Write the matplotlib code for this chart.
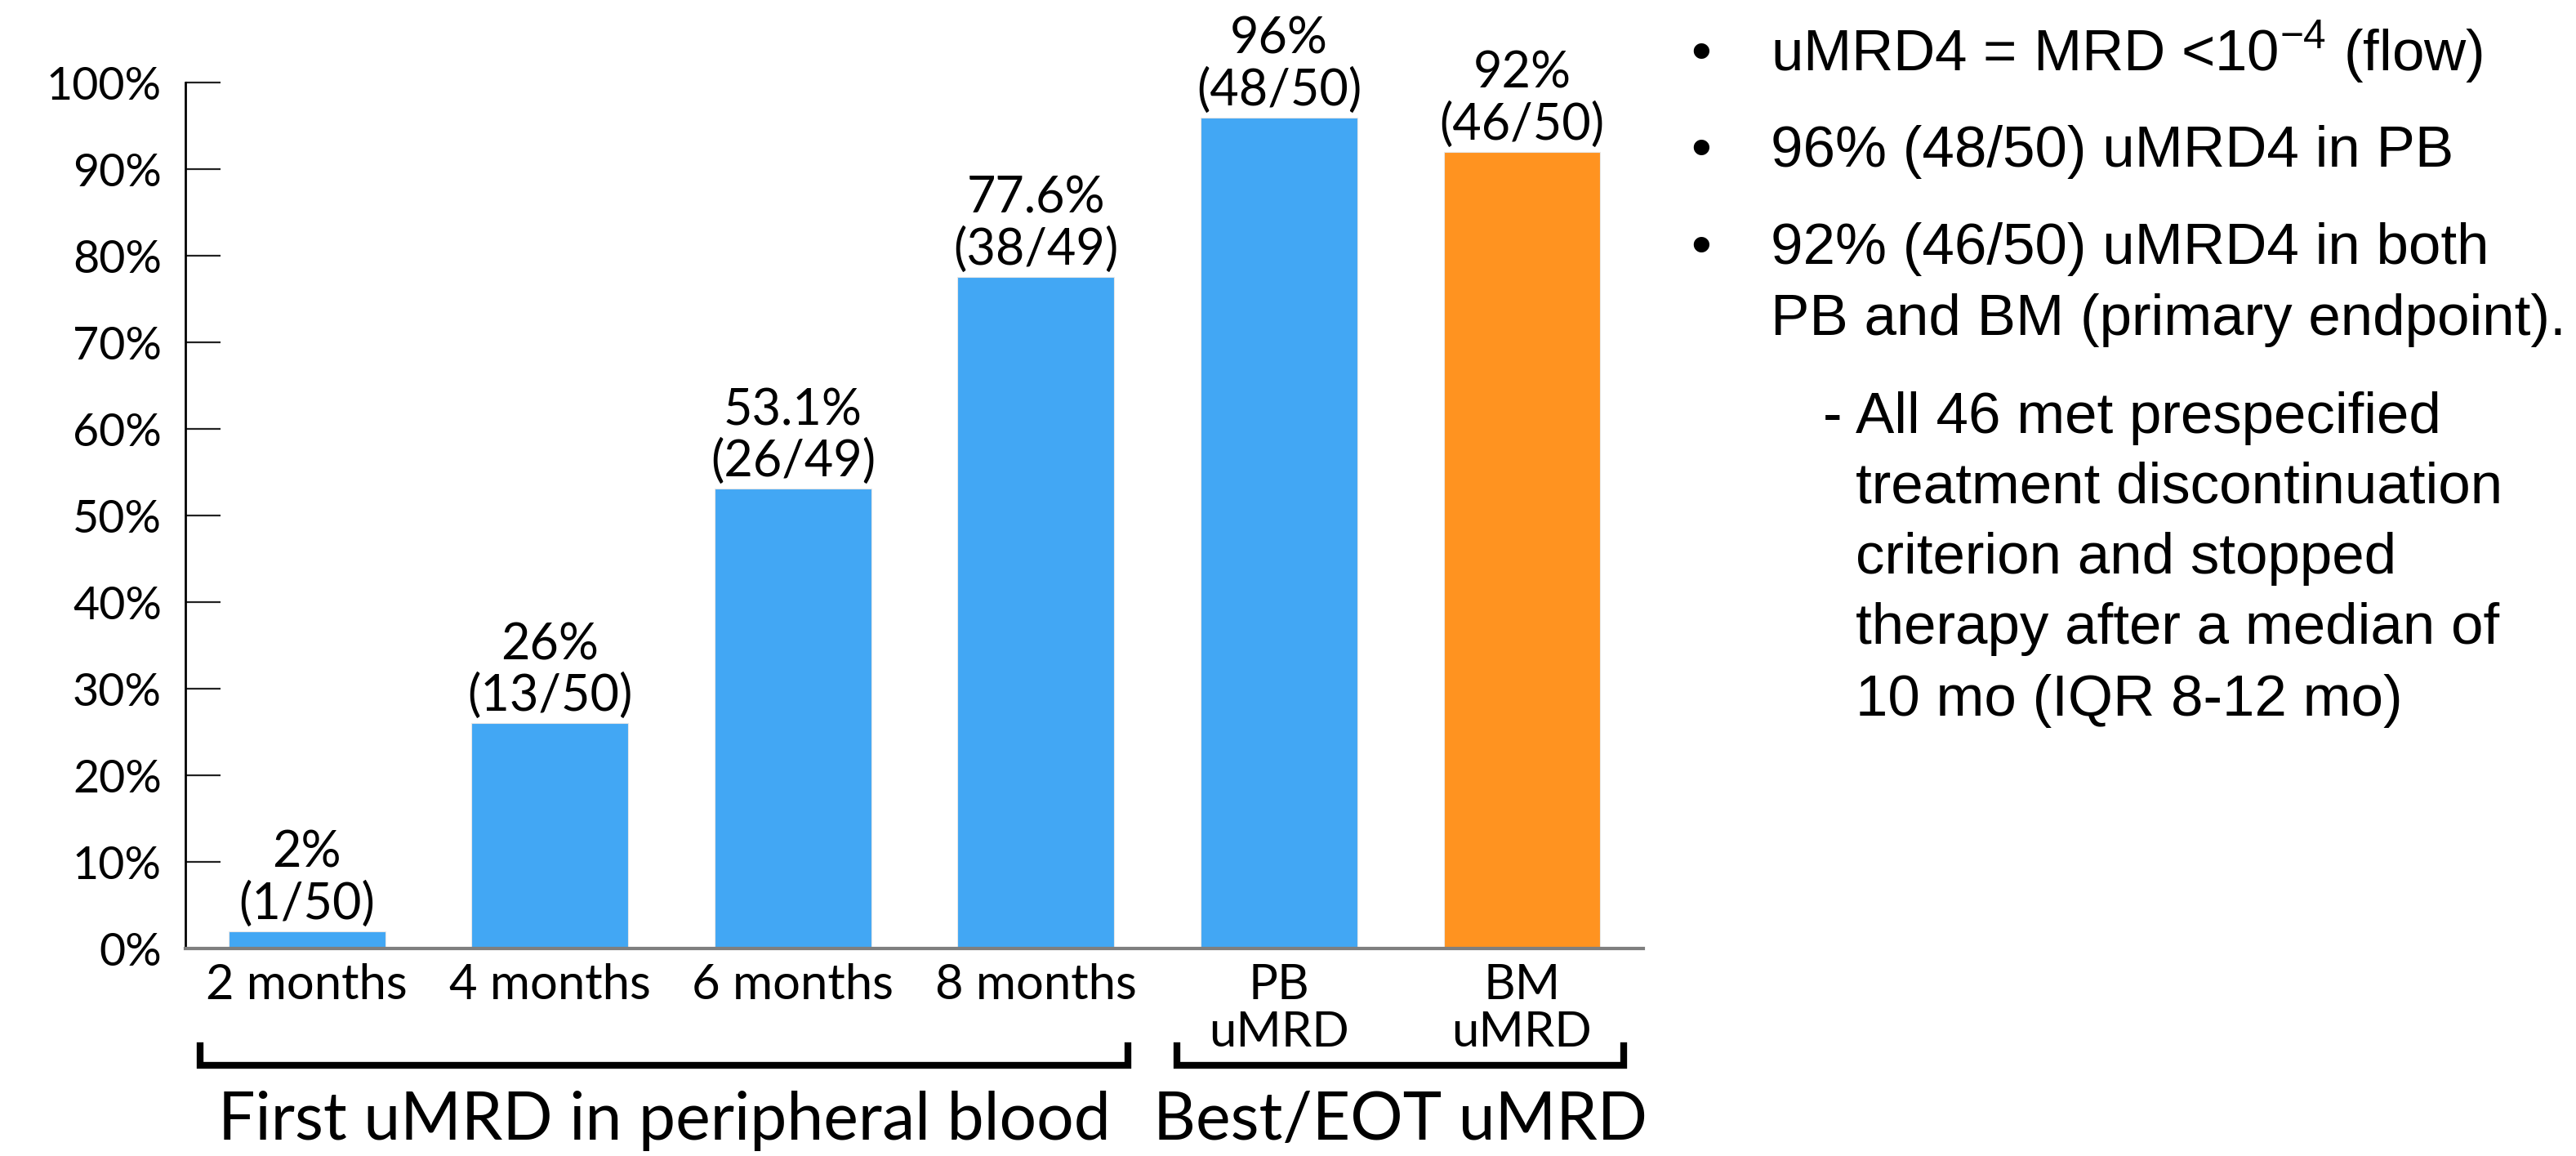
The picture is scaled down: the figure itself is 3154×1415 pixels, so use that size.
import matplotlib
matplotlib.use("Agg")
from matplotlib import pyplot as plt
from matplotlib.ticker import PercentFormatter
import matplotlib.transforms as mtransforms

categories = ["2 months", "4 months", "6 months", "8 months", "PB\nuMRD", "BM\nuMRD"]
rates = [2.0, 26.0, 53.1, 77.6, 96.0, 92.0]
bar_labels = ["2%\n(1/50)", "26%\n(13/50)", "53.1%\n(26/49)", "77.6%\n(38/49)",
              "96%\n(48/50)", "92%\n(46/50)"]
bar_colors = ["#42a7f4", "#42a7f4", "#42a7f4", "#42a7f4", "#42a7f4", "#ff9320"]
groups = ["First uMRD in peripheral blood", "Best/EOT uMRD"]
group_spans = [(-0.44, 3.38), (3.58, 5.42)]
notes = [
    ["uMRD4 = MRD <10$^{\\mathrm{-4}}$ (flow)"],
    ["96% (48/50) uMRD4 in PB"],
    ["92% (46/50) uMRD4 in both", "PB and BM (primary endpoint)."],
]
sub_note = ["All 46 met prespecified", "treatment discontinuation", "criterion and stopped",
            "therapy after a median of", "10 mo (IQR 8-12 mo)"]

plt.rcParams['mathtext.fontset'] = 'custom'
plt.rcParams['mathtext.rm'] = 'Liberation Sans'

W, H = 3154, 1415
fig = plt.figure(figsize=(W / 100, H / 100), dpi=100)
ax = fig.add_axes([0.072, 0.1795, 0.566, 0.749])

x = list(range(len(categories)))
bars = ax.bar(x, rates, width=0.645, color=bar_colors, edgecolor="#e8e8e8", linewidth=0.8, zorder=2)
ax.set_xlim(-0.5, 5.5)
ax.set_ylim(0, 100)
ax.set_yticks(range(0, 101, 10))
ax.yaxis.set_major_formatter(PercentFormatter(decimals=0))
ax.tick_params(axis='y', direction='in', length=31, width=1.6, color='#222222', pad=21,
               labelsize=40)
for t in ax.get_yticklabels():
    t.set_family('Lato')
ax.set_xticks(x)
ax.set_xticklabels(categories, family='Lato', fontsize=43, linespacing=1.08, va='top')
ax.tick_params(axis='x', length=0, pad=13)

for s in ['top', 'right']:
    ax.spines[s].set_visible(False)
ax.spines['left'].set_linewidth(2)
ax.spines['left'].set_color('black')
ax.spines['bottom'].set_linewidth(3)
ax.spines['bottom'].set_color('#7f7f7f')

for b, lab in zip(bars, bar_labels):
    ax.annotate(lab, (b.get_x() + b.get_width() / 2, b.get_height()), xytext=(0, 3),
                textcoords='offset points', ha='center', va='bottom', family='Lato',
                fontsize=44, linespacing=1.12)

# brackets under the x labels
tr = mtransforms.blended_transform_factory(ax.transData, ax.transAxes)
for (x0, x1), g in zip(group_spans, groups):
    ax.plot([x0, x0, x1, x1], [-0.112, -0.135, -0.135, -0.112], transform=tr,
            color='black', linewidth=6, solid_joinstyle='miter', clip_on=False)
    ax.text((x0 + x1) / 2, -0.199, g, transform=tr, ha='center', va='center',
            family='Lato', fontsize=58)

# bullet notes on the right (baselines in pixels from the top)
note_font = dict(family='Liberation Sans', fontsize=51, va='baseline')
baselines = [[86], [204], [323, 410]]
for lines, bls in zip(notes, baselines):
    fig.text(2083 / W, 1 - bls[0] / H, "\u2022", ha='center', **note_font)
    for line, bl in zip(lines, bls):
        fig.text(2168 / W, 1 - bl / H, line, **note_font)
sub_baselines = [530, 616, 702, 788, 876]
fig.text(2232 / W, 1 - sub_baselines[0] / H, "-", **note_font)
for line, bl in zip(sub_note, sub_baselines):
    fig.text(2272 / W, 1 - bl / H, line, **note_font)

fig.savefig("out.png", dpi=100, facecolor='white')
